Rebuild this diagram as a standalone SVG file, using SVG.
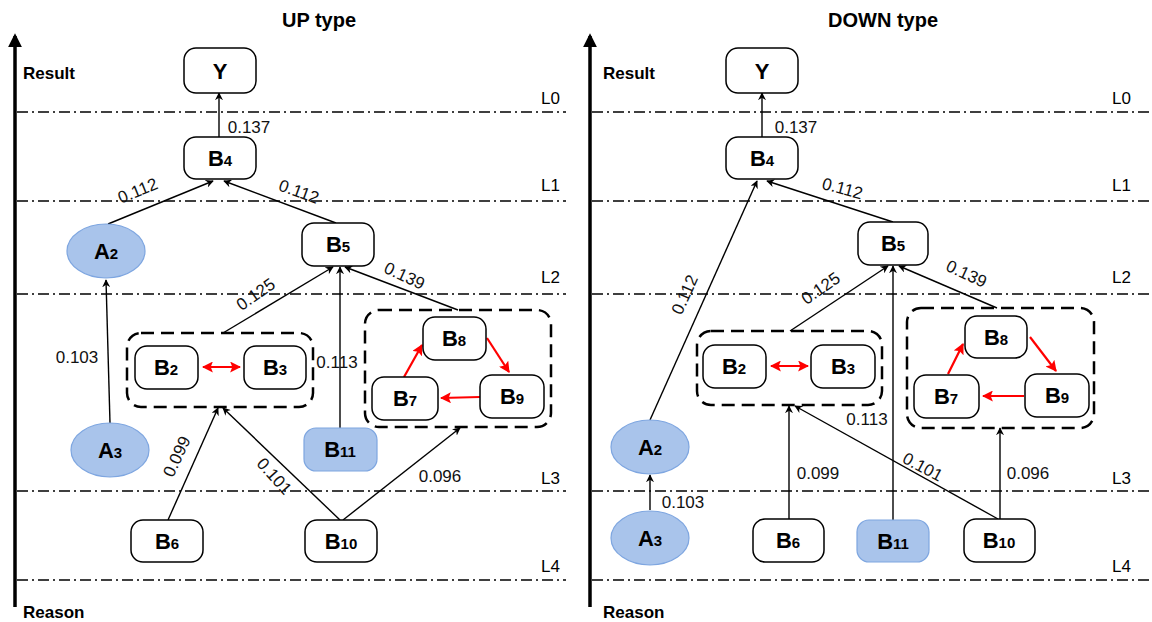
<svg xmlns="http://www.w3.org/2000/svg" width="1152" height="622" viewBox="0 0 1152 622">
  <style>
    .title { font-family: "Liberation Sans", Arial, sans-serif; font-weight: bold; font-size: 20px; fill: #000; text-anchor: middle; }
    .side { font-family: "Liberation Sans", Arial, sans-serif; font-weight: bold; font-size: 17px; fill: #000; }
    .lvl { font-family: "Liberation Sans", Arial, sans-serif; font-size: 17px; fill: #000; }
    .lbl { font-family: "Liberation Sans", Arial, sans-serif; font-size: 17px; fill: #111; text-anchor: middle; }
    .nt { font-family: "Liberation Sans", Arial, sans-serif; font-weight: bold; font-size: 22px; fill: #000; text-anchor: middle; }
    .sub { font-size: 15px; }
    .box { fill: #fff; stroke: #000; stroke-width: 1.5; }
    .blue { fill: #A9C4EB; stroke: #7EA6E0; stroke-width: 1.2; }
    .grp { fill: none; stroke: #000; stroke-width: 2.5; stroke-dasharray: 13 7; }
    .lvline { stroke: #000; stroke-width: 1.6; stroke-dasharray: 11 4 2 4; fill: none; }
    .axis { stroke: #000; stroke-width: 3.5; fill: none; }
    .edge { stroke: #000; stroke-width: 1.4; fill: none; marker-end: url(#arr); }
    .red { stroke: #FF0000; stroke-width: 2.2; fill: none; marker-end: url(#rarr); }
    .red2 { stroke: #FF0000; stroke-width: 2.2; fill: none; marker-end: url(#rarr); marker-start: url(#rarrs); }
  </style>
  <defs>
    <marker id="arr" viewBox="0 0 10 10" refX="9" refY="5" markerWidth="8" markerHeight="8" markerUnits="userSpaceOnUse" orient="auto">
      <path d="M0,0 L10,5 L0,10 L3,5 Z" fill="#000"/>
    </marker>
    <marker id="rarr" viewBox="0 0 10 10" refX="9" refY="5" markerWidth="11" markerHeight="11" markerUnits="userSpaceOnUse" orient="auto">
      <path d="M0,0 L10,5 L0,10 L2,5 Z" fill="#FF0000"/>
    </marker>
    <marker id="rarrs" viewBox="0 0 10 10" refX="1" refY="5" markerWidth="11" markerHeight="11" markerUnits="userSpaceOnUse" orient="auto">
      <path d="M10,0 L0,5 L10,10 L8,5 Z" fill="#FF0000"/>
    </marker>
    <marker id="axarr" viewBox="0 0 10 10" refX="8" refY="5" markerWidth="14" markerHeight="14" markerUnits="userSpaceOnUse" orient="auto">
      <path d="M0,0 L10,5 L0,10 Z" fill="#000"/>
    </marker>
  </defs>

  <rect width="1152" height="622" fill="#fff"/>

  <!-- ===== Left panel: UP type ===== -->
  <g id="up-frame">
    <text class="title" x="319" y="27">UP type</text>
    <line class="axis" x1="15" y1="607" x2="15" y2="36" marker-end="url(#axarr)"/>
    <text class="side" x="23" y="79">Result</text>
    <text class="side" x="23" y="618">Reason</text>
    <line class="lvline" x1="17" y1="112" x2="566" y2="112"/>
    <line class="lvline" x1="17" y1="201" x2="566" y2="201"/>
    <line class="lvline" x1="17" y1="294" x2="566" y2="294"/>
    <line class="lvline" x1="17" y1="491" x2="566" y2="491"/>
    <line class="lvline" x1="17" y1="580" x2="566" y2="580"/>
    <text class="lvl" x="541" y="104">L0</text>
    <text class="lvl" x="541" y="191">L1</text>
    <text class="lvl" x="541" y="283">L2</text>
    <text class="lvl" x="541" y="484">L3</text>
    <text class="lvl" x="541" y="572">L4</text>
  </g>

  <g id="up-connectors">
    <line class="edge" x1="219" y1="137" x2="219" y2="93"/>
    <line class="edge" x1="108" y1="224" x2="213" y2="181"/>
    <line class="edge" x1="336" y1="223" x2="224" y2="181"/>
    <line class="edge" x1="110" y1="423" x2="106" y2="280"/>
    <line class="edge" x1="223" y1="333" x2="333" y2="267"/>
    <line class="edge" x1="340" y1="428" x2="340" y2="267"/>
    <line class="edge" x1="458" y1="310" x2="345" y2="267"/>
    <line class="edge" x1="168" y1="520" x2="218" y2="408"/>
    <line class="edge" x1="340" y1="520" x2="223" y2="408"/>
    <line class="edge" x1="343" y1="520" x2="460" y2="428"/>
    <line class="red2" x1="203" y1="367" x2="240" y2="367"/>
    <line class="red" x1="404" y1="377" x2="422" y2="345"/>
    <line class="red" x1="487" y1="338" x2="509" y2="372"/>
    <line class="red" x1="480" y1="397" x2="441" y2="398"/>
  </g>

  <g id="up-labels">
    <text class="lbl" x="249" y="133">0.137</text>
    <text class="lbl" transform="translate(140,196) rotate(-22)">0.112</text>
    <text class="lbl" transform="translate(297,197) rotate(20)">0.112</text>
    <text class="lbl" transform="translate(259,299) rotate(-35)">0.125</text>
    <text class="lbl" transform="translate(402,281) rotate(25)">0.139</text>
    <text class="lbl" x="337" y="368">0.113</text>
    <text class="lbl" x="77" y="363">0.103</text>
    <text class="lbl" transform="translate(182,459) rotate(-65)">0.099</text>
    <text class="lbl" transform="translate(270,480) rotate(48)">0.101</text>
    <text class="lbl" x="440" y="482">0.096</text>
  </g>

  <g id="up-group-b2b3"><rect class="grp" x="127" y="333" width="186" height="74" rx="14"/></g>
  <g id="up-group-b7b8b9"><rect class="grp" x="365" y="310" width="186" height="117" rx="14"/></g>

  <g id="up-Y"><rect class="box" x="184" y="48" width="72" height="45" rx="12"/><text class="nt" x="220" y="79">Y</text></g>
  <g id="up-B4"><rect class="box" x="184" y="137" width="72" height="42" rx="12"/><text class="nt" x="220" y="166">B<tspan class="sub">4</tspan></text></g>
  <g id="up-A2"><ellipse class="blue" cx="106" cy="251" rx="39" ry="27"/><text class="nt" x="106" y="259">A<tspan class="sub">2</tspan></text></g>
  <g id="up-B5"><rect class="box" x="302" y="223" width="72" height="43" rx="12"/><text class="nt" x="338" y="252">B<tspan class="sub">5</tspan></text></g>
  <g id="up-B2"><rect class="box" x="135" y="346" width="63" height="43" rx="12"/><text class="nt" x="166" y="375">B<tspan class="sub">2</tspan></text></g>
  <g id="up-B3"><rect class="box" x="244" y="346" width="62" height="43" rx="12"/><text class="nt" x="275" y="375">B<tspan class="sub">3</tspan></text></g>
  <g id="up-B8"><rect class="box" x="423" y="317" width="63" height="43" rx="12"/><text class="nt" x="454" y="346">B<tspan class="sub">8</tspan></text></g>
  <g id="up-B7"><rect class="box" x="372" y="377" width="66" height="43" rx="12"/><text class="nt" x="405" y="406">B<tspan class="sub">7</tspan></text></g>
  <g id="up-B9"><rect class="box" x="480" y="375" width="64" height="43" rx="12"/><text class="nt" x="512" y="404">B<tspan class="sub">9</tspan></text></g>
  <g id="up-A3"><ellipse class="blue" cx="110" cy="450" rx="39" ry="27"/><text class="nt" x="110" y="458">A<tspan class="sub">3</tspan></text></g>
  <g id="up-B11"><rect class="blue" x="304" y="428" width="73" height="43" rx="12"/><text class="nt" x="340" y="457">B<tspan class="sub">11</tspan></text></g>
  <g id="up-B6"><rect class="box" x="131" y="520" width="72" height="42" rx="12"/><text class="nt" x="167" y="549">B<tspan class="sub">6</tspan></text></g>
  <g id="up-B10"><rect class="box" x="305" y="520" width="72" height="42" rx="12"/><text class="nt" x="341" y="549">B<tspan class="sub">10</tspan></text></g>

  <!-- ===== Right panel: DOWN type ===== -->
  <g id="down-frame">
    <text class="title" x="883" y="27">DOWN type</text>
    <line class="axis" x1="590" y1="607" x2="590" y2="36" marker-end="url(#axarr)"/>
    <text class="side" x="603" y="79">Result</text>
    <text class="side" x="603" y="618">Reason</text>
    <line class="lvline" x1="592" y1="112" x2="1150" y2="112"/>
    <line class="lvline" x1="592" y1="201" x2="1150" y2="201"/>
    <line class="lvline" x1="592" y1="294" x2="1150" y2="294"/>
    <line class="lvline" x1="592" y1="491" x2="1150" y2="491"/>
    <line class="lvline" x1="592" y1="580" x2="1150" y2="580"/>
    <text class="lvl" x="1112" y="104">L0</text>
    <text class="lvl" x="1112" y="191">L1</text>
    <text class="lvl" x="1112" y="283">L2</text>
    <text class="lvl" x="1112" y="484">L3</text>
    <text class="lvl" x="1112" y="572">L4</text>
  </g>

  <g id="down-connectors">
    <line class="edge" x1="762" y1="137" x2="762" y2="93"/>
    <line class="edge" x1="650" y1="420" x2="757" y2="181"/>
    <line class="edge" x1="893" y1="222" x2="767" y2="181"/>
    <line class="edge" x1="650" y1="510" x2="650" y2="475"/>
    <line class="edge" x1="790" y1="331" x2="888" y2="266"/>
    <line class="edge" x1="893" y1="520" x2="893" y2="266"/>
    <line class="edge" x1="997" y1="308" x2="899" y2="266"/>
    <line class="edge" x1="789" y1="519" x2="789" y2="406"/>
    <line class="edge" x1="998" y1="519" x2="795" y2="406"/>
    <line class="edge" x1="1000" y1="519" x2="1000" y2="428"/>
    <line class="red2" x1="771" y1="366" x2="808" y2="366"/>
    <line class="red" x1="948" y1="374" x2="963" y2="344"/>
    <line class="red" x1="1030" y1="337" x2="1056" y2="371"/>
    <line class="red" x1="1024" y1="396" x2="983" y2="396"/>
  </g>

  <g id="down-labels">
    <text class="lbl" x="796" y="133">0.137</text>
    <text class="lbl" transform="translate(841,194) rotate(15)">0.112</text>
    <text class="lbl" transform="translate(690,297) rotate(-66)">0.112</text>
    <text class="lbl" transform="translate(824,293) rotate(-35)">0.125</text>
    <text class="lbl" transform="translate(964,279) rotate(25)">0.139</text>
    <text class="lbl" x="867" y="425">0.113</text>
    <text class="lbl" x="818" y="479">0.099</text>
    <text class="lbl" transform="translate(920,472) rotate(28)">0.101</text>
    <text class="lbl" x="1028" y="479">0.096</text>
    <text class="lbl" x="683" y="508">0.103</text>
  </g>

  <g id="down-group-b2b3"><rect class="grp" x="697" y="331" width="185" height="74" rx="14"/></g>
  <g id="down-group-b7b8b9"><rect class="grp" x="907" y="308" width="187" height="120" rx="14"/></g>

  <g id="down-Y"><rect class="box" x="726" y="48" width="72" height="45" rx="12"/><text class="nt" x="762" y="79">Y</text></g>
  <g id="down-B4"><rect class="box" x="726" y="137" width="72" height="42" rx="12"/><text class="nt" x="762" y="166">B<tspan class="sub">4</tspan></text></g>
  <g id="down-B5"><rect class="box" x="858" y="222" width="70" height="43" rx="12"/><text class="nt" x="893" y="251">B<tspan class="sub">5</tspan></text></g>
  <g id="down-B2"><rect class="box" x="703" y="345" width="63" height="43" rx="12"/><text class="nt" x="734" y="374">B<tspan class="sub">2</tspan></text></g>
  <g id="down-B3"><rect class="box" x="811" y="345" width="64" height="43" rx="12"/><text class="nt" x="843" y="374">B<tspan class="sub">3</tspan></text></g>
  <g id="down-B8"><rect class="box" x="965" y="316" width="62" height="42" rx="12"/><text class="nt" x="996" y="345">B<tspan class="sub">8</tspan></text></g>
  <g id="down-B7"><rect class="box" x="914" y="375" width="65" height="43" rx="12"/><text class="nt" x="946" y="404">B<tspan class="sub">7</tspan></text></g>
  <g id="down-B9"><rect class="box" x="1025" y="374" width="64" height="43" rx="12"/><text class="nt" x="1057" y="403">B<tspan class="sub">9</tspan></text></g>
  <g id="down-A2"><ellipse class="blue" cx="650" cy="447" rx="39" ry="27"/><text class="nt" x="650" y="455">A<tspan class="sub">2</tspan></text></g>
  <g id="down-A3"><ellipse class="blue" cx="650" cy="538" rx="39" ry="27"/><text class="nt" x="650" y="546">A<tspan class="sub">3</tspan></text></g>
  <g id="down-B6"><rect class="box" x="753" y="519" width="71" height="43" rx="12"/><text class="nt" x="788" y="548">B<tspan class="sub">6</tspan></text></g>
  <g id="down-B11"><rect class="blue" x="857" y="520" width="72" height="42" rx="12"/><text class="nt" x="893" y="549">B<tspan class="sub">11</tspan></text></g>
  <g id="down-B10"><rect class="box" x="964" y="519" width="71" height="43" rx="12"/><text class="nt" x="999" y="548">B<tspan class="sub">10</tspan></text></g>
</svg>
